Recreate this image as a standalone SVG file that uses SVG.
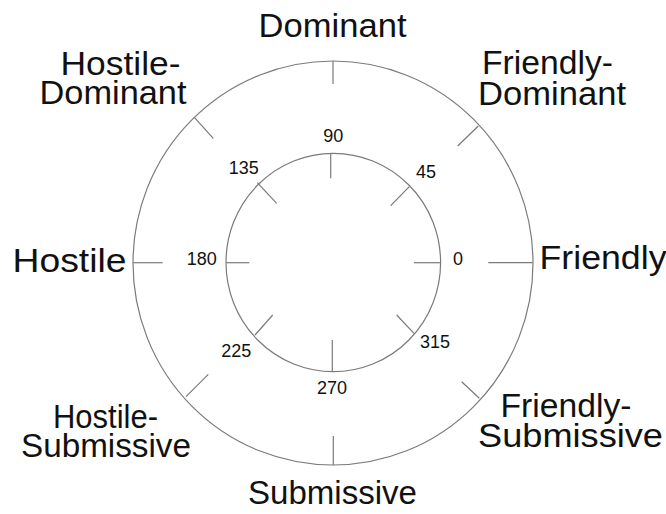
<svg xmlns="http://www.w3.org/2000/svg" width="666" height="514" viewBox="0 0 666 514">
<style>
.ring{fill:none;stroke:#7a7a7a;stroke-width:1.2}
.tick{stroke:#7a7a7a;stroke-width:1.2}
.big{font-family:"Liberation Sans",Arial,Helvetica,sans-serif;font-size:33px;fill:#111}
.num{font-family:"Liberation Sans",Arial,Helvetica,sans-serif;font-size:18px;fill:#111;text-anchor:middle}
</style>
<rect width="666" height="514" fill="#ffffff"/>
<g id="outer-ring">
<ellipse class="ring" cx="333" cy="263" rx="200" ry="202"/>
</g>
<g id="inner-ring">
<ellipse class="ring" cx="333.3" cy="262.5" rx="107.3" ry="109.2"/>
</g>
<g id="connectors">
<line class="tick" x1="333" y1="61" x2="333" y2="84"/>
<line class="tick" x1="478.3" y1="126" x2="457.7" y2="146"/>
<line class="tick" x1="488.3" y1="262.7" x2="532.7" y2="262.7"/>
<line class="tick" x1="479.3" y1="398.3" x2="461.7" y2="381.7"/>
<line class="tick" x1="333.3" y1="436" x2="333.3" y2="465"/>
<line class="tick" x1="186" y1="396.7" x2="208.3" y2="374.3"/>
<line class="tick" x1="133.3" y1="262.7" x2="162.7" y2="262.7"/>
<line class="tick" x1="194.3" y1="117.3" x2="213.3" y2="138.3"/>
<line class="tick" x1="330.7" y1="153.3" x2="330.7" y2="178.3"/>
<line class="tick" x1="409.3" y1="186.7" x2="390.7" y2="205.7"/>
<line class="tick" x1="414" y1="262.7" x2="440.7" y2="262.7"/>
<line class="tick" x1="414" y1="333.3" x2="396.7" y2="315"/>
<line class="tick" x1="332.3" y1="340" x2="332.3" y2="371.7"/>
<line class="tick" x1="255" y1="335" x2="272.7" y2="315"/>
<line class="tick" x1="226" y1="262.7" x2="249.3" y2="262.7"/>
<line class="tick" x1="257.3" y1="182.7" x2="276.7" y2="203.3"/>
</g>
<g id="angles">
<text class="num" x="333.3" y="142">90</text>
<text class="num" x="426" y="177.5">45</text>
<text class="num" x="458" y="265">0</text>
<text class="num" x="435" y="347.5">315</text>
<text class="num" x="332" y="394">270</text>
<text class="num" x="236.3" y="357">225</text>
<text class="num" x="201.7" y="265">180</text>
<text class="num" x="243.8" y="174">135</text>
</g>
<g id="label-dominant"><text class="big" x="258.5" y="37" textLength="148" lengthAdjust="spacingAndGlyphs">Dominant</text></g>
<g id="label-hostile-dominant">
<text class="big" x="60.5" y="75" textLength="120" lengthAdjust="spacingAndGlyphs">Hostile-</text>
<text class="big" x="39.5" y="104" textLength="147" lengthAdjust="spacingAndGlyphs">Dominant</text>
</g>
<g id="label-friendly-dominant">
<text class="big" x="482" y="74" textLength="131" lengthAdjust="spacingAndGlyphs">Friendly-</text>
<text class="big" x="478" y="105" textLength="148" lengthAdjust="spacingAndGlyphs">Dominant</text>
</g>
<g id="label-hostile"><text class="big" x="12.5" y="272" textLength="114" lengthAdjust="spacingAndGlyphs">Hostile</text></g>
<g id="label-friendly"><text class="big" x="539.5" y="269" textLength="127" lengthAdjust="spacingAndGlyphs">Friendly</text></g>
<g id="label-hostile-submissive">
<text class="big" x="53" y="428" textLength="105" lengthAdjust="spacingAndGlyphs">Hostile-</text>
<text class="big" x="21" y="457" textLength="170" lengthAdjust="spacingAndGlyphs">Submissive</text>
</g>
<g id="label-friendly-submissive">
<text class="big" x="500.5" y="417" textLength="131" lengthAdjust="spacingAndGlyphs">Friendly-</text>
<text class="big" x="478" y="447" textLength="185" lengthAdjust="spacingAndGlyphs">Submissive</text>
</g>
<g id="label-submissive"><text class="big" x="248" y="504" textLength="169" lengthAdjust="spacingAndGlyphs">Submissive</text></g>
</svg>
